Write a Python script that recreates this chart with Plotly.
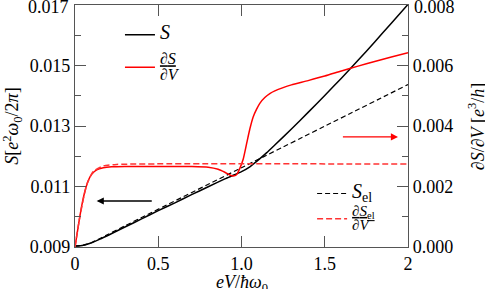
import plotly.graph_objects as go

# ---- data ----
x_S = [0, 0.05, 0.1, 0.15, 0.2, 0.3, 0.4, 0.5, 0.6, 0.7, 0.8, 0.9, 0.95, 1.0, 1.05, 1.1, 1.15, 1.2, 1.3, 1.4, 1.5, 1.6, 1.7, 1.8, 1.9, 2.0]
S = [0.00903, 0.00906, 0.00914, 0.00926, 0.00939, 0.00966, 0.00993, 0.01020, 0.01046, 0.01073, 0.01099, 0.01125, 0.01137, 0.01149, 0.01165, 0.01187, 0.01211, 0.01237, 0.01290, 0.01345, 0.01401, 0.01458, 0.01517, 0.01578, 0.01640, 0.01702]

x_Sel = [0, 0.05, 0.1, 0.15, 0.2, 0.3, 1.0, 2.0]
S_el = [0.00903, 0.00906, 0.00915, 0.00928, 0.00942, 0.00970, 0.01162, 0.01437]

x_dS = [0, 0.02, 0.04, 0.06, 0.08, 0.10, 0.13, 0.17, 0.22, 0.3, 0.5, 0.7, 0.8, 0.86, 0.9, 0.93, 0.95, 0.97, 0.99, 1.01, 1.03, 1.05, 1.07, 1.09, 1.11, 1.14, 1.17, 1.2, 1.25, 1.3, 1.4, 1.5, 1.6, 1.7, 1.8, 1.9, 2.0]
dS = [0, 0.0007, 0.00135, 0.00185, 0.0022, 0.0024, 0.00255, 0.00262, 0.00265, 0.00266, 0.00266, 0.00266, 0.00264, 0.00257, 0.00247, 0.00238, 0.00235, 0.00239, 0.0026, 0.0029, 0.0034, 0.0039, 0.0043, 0.00455, 0.00475, 0.00494, 0.00507, 0.00516, 0.00527, 0.00536, 0.0055, 0.00565, 0.00582, 0.00598, 0.00613, 0.00628, 0.00642]

x_dSel = [0, 0.03, 0.07, 0.11, 0.17, 0.25, 2.0]
dS_el = [0, 0.00103, 0.00205, 0.0025, 0.00268, 0.00273, 0.00274]

x_ticks = [0, 0.5, 1.0, 1.5, 2.0]
x_ticktext = ["0", "0.5", "1.0", "1.5", "2"]
y_ticks = [0.009, 0.011, 0.013, 0.015, 0.017]
y_ticktext = ["0.009", "0.011", "0.013", "0.015", ""]
y_toplabel = "0.017"
y2_ticks = [0.0, 0.002, 0.004, 0.006, 0.008]
y2_ticktext = ["0.000", "0.002", "0.004", "0.006", ""]
y2_toplabel = "0.008"

FONT = "Liberation Serif"
AX = "#555555"


def big(t, px):
    return "<span style='font-size:%dpx'>%s</span>" % (px, t)


fig = go.Figure()
fig.add_trace(go.Scatter(x=x_S, y=S, mode="lines", name=big("<i>S</i>", 20),
                         line=dict(color="black", width=1.5, shape="spline", smoothing=0.6),
                         legend="legend", legendgroup="a"))
fig.add_trace(go.Scatter(x=x_dS, y=dS, mode="lines", yaxis="y2",
                         name="<u>" + big("∂<i>S</i>", 16) + "</u><br>" + big("∂<i>V</i>", 16),
                         line=dict(color="red", width=1.5, shape="spline", smoothing=0.6),
                         legend="legend", legendgroup="b"))
fig.add_trace(go.Scatter(x=x_Sel, y=S_el, mode="lines", name=big("<i>S</i><sub>el</sub>", 20),
                         line=dict(color="black", width=1.2, dash="5px,3px", shape="spline", smoothing=0.6),
                         legend="legend2", legendgroup="c"))
fig.add_trace(go.Scatter(x=x_dSel, y=dS_el, mode="lines", yaxis="y2",
                         name="<u>" + big("∂<i>S</i><sub>el</sub>", 15) + "</u><br>" + big("∂<i>V</i>", 15),
                         line=dict(color="#ff3333", width=1.5, dash="6px,3px", shape="spline", smoothing=0.6),
                         legend="legend2", legendgroup="d"))

axis_common = dict(showgrid=False, zeroline=False, showline=True, linecolor=AX, linewidth=1.2,
                   ticks="inside", tickcolor=AX, ticklen=11, tickwidth=1.2,
                   tickfont=dict(family=FONT, size=18, color="black"))

fig.update_layout(
    width=485, height=289,
    margin=dict(l=75, r=77, t=5, b=42),
    paper_bgcolor="white", plot_bgcolor="white",
    font=dict(family=FONT, size=18, color="black"),
    xaxis=dict(range=[0, 2], tickvals=x_ticks, ticktext=x_ticktext, mirror="ticks", **axis_common),
    yaxis=dict(range=[0.009, 0.01700002], tickvals=y_ticks, ticktext=y_ticktext, mirror=True,
               minor=dict(dtick=0.001, tick0=0.009, ticklen=6, ticks="inside", tickcolor=AX),
               **axis_common),
    yaxis2=dict(range=[0, 0.00800002], tickvals=y2_ticks, ticktext=y2_ticktext, overlaying="y", side="right",
                minor=dict(dtick=0.001, tick0=0, ticklen=6, ticks="inside", tickcolor=AX),
                **axis_common),
    legend=dict(x=0.135, y=0.937, xanchor="left", yanchor="top", bgcolor="rgba(0,0,0,0)",
                font=dict(family=FONT, size=12), tracegroupgap=6, valign="middle"),
    legend2=dict(x=0.712, y=0.281, xanchor="left", yanchor="top", bgcolor="rgba(0,0,0,0)",
                 font=dict(family=FONT, size=11), tracegroupgap=0, valign="middle"),
    showlegend=True,
)

# top tick labels (kept as text next to the top ticks)
fig.add_annotation(text=y_toplabel, xref="paper", yref="paper", x=-0.012, y=1, xanchor="right",
                   yanchor="middle", yshift=-2, showarrow=False, font=dict(family=FONT, size=18))
fig.add_annotation(text=y2_toplabel, xref="paper", yref="paper", x=1.012, y=1, xanchor="left",
                   yanchor="middle", yshift=-2, showarrow=False, font=dict(family=FONT, size=18))

# axis titles
fig.add_annotation(text="<i>eV</i>/<i>ħω</i><sub>0</sub>", xref="paper", yref="paper",
                   x=0.5, y=-0.152, xanchor="center", yanchor="middle", showarrow=False,
                   font=dict(family=FONT, size=18))
fig.add_annotation(text="<i>S</i>[<i>e</i><sup>2</sup><i>ω</i><sub>0</sub>/2<i>π</i>]", xref="paper", yref="paper",
                   x=-0.19, y=0.5, xanchor="center", yanchor="middle", textangle=-90, showarrow=False,
                   font=dict(family=FONT, size=18))
fig.add_annotation(text="∂<i>S</i>/∂<i>V</i> [<i>e</i><sup>3</sup>/<i>h</i>]", xref="paper", yref="paper",
                   x=1.205, y=0.5, xanchor="center", yanchor="middle", textangle=-90, showarrow=False,
                   font=dict(family=FONT, size=18))

# arrows indicating which axis each curve belongs to
fig.add_annotation(x=0.13, y=0.01052, ax=0.47, ay=0.01052, xref="x", yref="y", axref="x", ayref="y",
                   text="", showarrow=True, arrowhead=2, arrowsize=1.1, arrowwidth=1.3, arrowcolor="black")
fig.add_annotation(x=1.94, y=0.01264, ax=1.60, ay=0.01264, xref="x", yref="y", axref="x", ayref="y",
                   text="", showarrow=True, arrowhead=2, arrowsize=1.1, arrowwidth=1.3, arrowcolor="red")

fig.write_html("out.html", config={"displayModeBar": False},
               post_script="document.body.style.margin='0';document.body.style.overflow='hidden';")
